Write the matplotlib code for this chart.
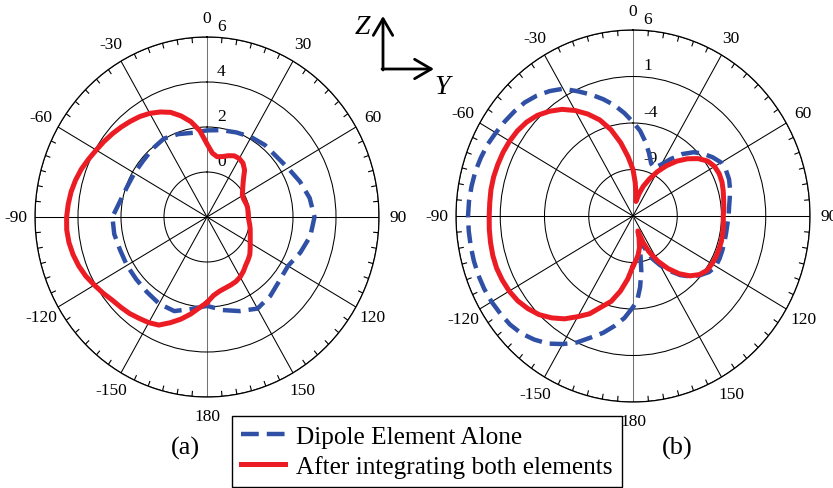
import numpy as np
import matplotlib
matplotlib.use("Agg")
import matplotlib.pyplot as plt
import matplotlib.transforms as mtransforms

plt.rcParams['font.family'] = ['Liberation Serif', 'DejaVu Serif']

# ---- (a) gain patterns, dB, angle in degrees (clockwise from Z) ----
ang_a_int = [-180, -175, -170, -165, -160, -155, -150, -145, -140, -135, -130, -125,
             -120, -115, -110, -105, -100, -95, -90, -85, -80, -75, -70, -65, -60,
             -55, -50, -45, -40, -35, -30, -25, -20, -15, -10, -5, 0, 5, 10, 15, 20,
             25, 30, 35, 40, 45, 50, 55, 60, 65, 70, 75, 80, 85, 90, 95, 100, 105,
             110, 115, 120, 125, 130, 135, 140, 145, 150, 155, 160, 165, 170, 175, 180]
gain_a_int = [1.8, 2.05, 2.38, 2.7, 3.0, 3.3, 3.42, 3.5, 3.6, 3.67, 3.75, 3.9,
              4.05, 4.22, 4.35, 4.45, 4.52, 4.55, 4.53, 4.48, 4.42, 4.33, 4.22, 4.08, 3.95,
              3.85, 3.75, 3.65, 3.55, 3.45, 3.32, 3.15, 2.95, 2.65, 2.3, 1.85, 1.25, 0.85, 0.72, 0.78, 0.9,
              1.0, 1.0, 0.92, 0.72, 0.4, 0.18, 0.02, -0.1, -0.12, -0.1, -0.07, -0.07, -0.08, -0.08, -0.04, 0.02, 0.08,
              0.14, 0.22, 0.32, 0.45, 0.6, 0.7, 0.8, 0.95, 1.08, 1.17, 1.22, 1.27, 1.35, 1.5, 1.8]

ang_a_dip = [-180, -170, -160, -150, -140, -130, -120, -110, -100, -90, -80, -70, -60,
             -50, -40, -30, -20, -10, 0, 10, 20, 30, 40, 50, 60, 70, 80, 90, 100, 110,
             120, 130, 140, 150, 160, 170, 180]
gain_a_dip = [1.95, 2.15, 2.45, 2.45, 2.35, 2.3, 2.3, 2.3, 2.38, 2.4, 2.1, 1.95, 1.9,
              1.88, 1.95, 2.02, 1.92, 1.8, 1.85, 1.92, 2.0, 2.1, 2.18, 2.2, 2.35, 2.6, 2.85, 3.0, 2.88, 2.62,
              2.35, 2.4, 2.58, 2.7, 2.45, 2.2, 1.95]

# ---- (b) gain patterns ----
ang_b_int = [-180, -175, -170, -165, -160, -155, -150, -145, -140, -135, -130, -125,
             -120, -115, -110, -105, -100, -95, -90, -85, -80, -75, -70, -65, -60,
             -55, -50, -45, -40, -35, -30, -25, -20, -15, -10, -5, 0, 4, 8, 12, 16, 20,
             25, 30, 35, 40, 45, 50, 55, 60, 65, 70, 75, 80, 85, 90, 95, 100, 105,
             110, 115, 120, 125, 130, 135, 140, 145, 150, 155, 158, 161, 164, 168, 172, 176, 180]
gain_b_int = [-8.6, -7.2, -5.8, -4.5, -3.6, -2.4, -1.5, -0.5, 0.3, 1.0, 1.5, 1.9,
              2.15, 2.3, 2.4, 2.4, 2.35, 2.3, 2.25, 2.25, 2.3, 2.3, 2.25, 2.2, 2.1,
              1.95, 1.7, 1.3, 0.7, 0.0, -0.9, -1.9, -3.0, -4.4, -6.0, -7.6, -9.0, -10.4, -11.6, -12.4, -11.5, -10.6,
              -9.6, -8.5, -7.4, -6.3, -5.3, -4.4, -3.7, -3.35, -3.25, -3.3, -3.45, -3.6, -3.7, -3.8, -3.75, -3.7, -3.65,
              -3.65, -3.65, -3.7, -3.8, -4.2, -4.9, -5.9, -7.1, -8.4, -9.8, -10.9, -12.3, -11.5, -10.5, -9.8, -9.2, -8.6]

ang_b_dip = [-180, -175, -170, -165, -160, -155, -150, -145, -140, -135, -130, -125,
             -120, -115, -110, -105, -100, -95, -90, -85, -80, -75, -70, -65, -60,
             -55, -50, -45, -40, -35, -30, -25, -20, -15, -10, -5, 0, 5, 10, 15, 20,
             25, 30, 35, 40, 45, 50, 55, 60, 65, 70, 75, 80, 85, 90, 95, 100, 105,
             110, 115, 120, 125, 130, 135, 140, 145, 150, 155, 160, 163, 166, 168, 171, 174, 177, 180]
gain_b_dip = [-4.2, -3.0, -2.0, -1.0, -0.1, 1.0, 1.9, 2.75, 3.35, 3.85, 4.15, 4.3,
              4.45, 4.55, 4.6, 4.62, 4.62, 4.63, 4.64, 4.6, 4.52, 4.45, 4.3, 4.15, 3.9,
              3.7, 3.5, 3.28, 2.9, 2.4, 1.8, 0.8, -0.1, -1.0, -1.9, -2.9, -3.9, -4.8, -5.9, -7.0, -8.0,
              -8.3, -7.6, -6.5, -5.3, -4.3, -3.6, -3.0, -2.5, -2.4, -2.45, -2.65, -2.9, -3.1, -3.2, -3.3, -3.32, -3.3,
              -3.25, -3.2, -3.2, -3.5, -4.1, -4.8, -5.7, -6.8, -7.9, -9.0, -10.5, -11.3, -10.6, -10.0, -8.0, -6.3, -4.9, -4.2]

theta_ticks = [0, 30, 60, 90, 120, 150, 180, -150, -120, -90, -60, -30]
rings_a = [0, 2, 4, 6]
rings_b = [-9, -4, 1, 6]

labels = ["Dipole Element Alone", "After integrating both elements"]
c_dip = '#2F50A5'
c_int = '#EC1C24'

W, H = 833, 489
fig = plt.figure(figsize=(W / 100, H / 100), dpi=100)


def px_rect(left, top, right, bottom):
    return [left / W, 1 - bottom / H, (right - left) / W, (bottom - top) / H]


def polar_panel(rect, rings, radius_px):
    ax = fig.add_axes(rect, projection='polar')
    ax.set_aspect('auto')
    ax.set_theta_zero_location('N')
    ax.set_theta_direction(-1)
    rmin = rings[0] - (rings[1] - rings[0])
    rmax = rings[-1]
    ax.set_rlim(rmin, rmax)
    ax.set_yticks(rings)
    ax.set_yticklabels([])
    ax.set_thetagrids([t % 360 for t in theta_ticks], [str(t) for t in theta_ticks])
    ax.tick_params(axis='x', which='major', length=0, pad=7, labelsize=12.5)
    ax.tick_params(axis='y', length=0)
    ax.grid(True, color='black', linewidth=0.75)
    for i, gl in enumerate(ax.xaxis.get_gridlines()):
        if i in (0, 6):
            gl.set_color('0.45')
    ax.spines['polar'].set_linewidth(0.9)
    # short inward ticks every 5 degrees on the rim
    tick_len = (rmax - rmin) * 5.5 / radius_px
    for a in range(0, 360, 5):
        if a % 30:
            t = np.deg2rad(a)
            ax.plot([t, t], [rmax, rmax - tick_len], color='black', lw=0.8,
                    solid_capstyle='butt', zorder=2)
    off = mtransforms.offset_copy(ax.transData, fig=fig, x=10, y=11, units='dots')
    for r in rings:
        ax.text(0, r, str(r), transform=off, ha='left', va='center', fontsize=12.5)
    return ax


ax_a = polar_panel(px_rect(35, 38, 379, 398), rings_a, 180)
ax_b = polar_panel(px_rect(456, 31, 810, 403), rings_b, 186)

dash = (0, (4, 1.8))
for ax, ad, gd, ai, gi in [(ax_a, ang_a_dip, gain_a_dip, ang_a_int, gain_a_int),
                           (ax_b, ang_b_dip, gain_b_dip, ang_b_int, gain_b_int)]:
    ld, = ax.plot(np.deg2rad(ad), gd, color=c_dip, lw=3.2, linestyle=dash,
                  dash_capstyle='butt', zorder=3)
    li, = ax.plot(np.deg2rad(ai), gi, color=c_int, lw=3.6,
                  solid_joinstyle='round', zorder=4)

# coordinate arrows
arrow_kw = dict(arrowstyle='->,head_length=0.6,head_width=0.35', lw=2, color='black',
                shrinkA=0, shrinkB=0, mutation_scale=20)
ax_a.annotate('', xy=(383, H - 17), xytext=(383, H - 71), xycoords='figure pixels',
              textcoords='figure pixels', arrowprops=arrow_kw, annotation_clip=False)
ax_a.annotate('', xy=(434, H - 70), xytext=(382, H - 70), xycoords='figure pixels',
              textcoords='figure pixels', arrowprops=arrow_kw, annotation_clip=False)
fig.text(362 / W, 1 - 27 / H, 'Z', fontsize=20, style='italic', ha='center', va='center')
fig.text(442 / W, 1 - 87 / H, 'Y', fontsize=20, style='italic', ha='center', va='center')

fig.text(185 / W, 1 - 448 / H, '(a)', fontsize=19, ha='center', va='center')
fig.text(677 / W, 1 - 448 / H, '(b)', fontsize=19, ha='center', va='center')

leg = fig.legend([ld, li], labels, loc='upper left',
                 bbox_to_anchor=(232 / W, 1 - 417 / H), fontsize=18.2,
                 frameon=True, fancybox=False, edgecolor='black', framealpha=1,
                 handlelength=1.72, handletextpad=0.45, borderpad=0.36,
                 labelspacing=0.28, borderaxespad=0)
leg.get_frame().set_linewidth(1.0)

fig.savefig('out.png', dpi=100)
